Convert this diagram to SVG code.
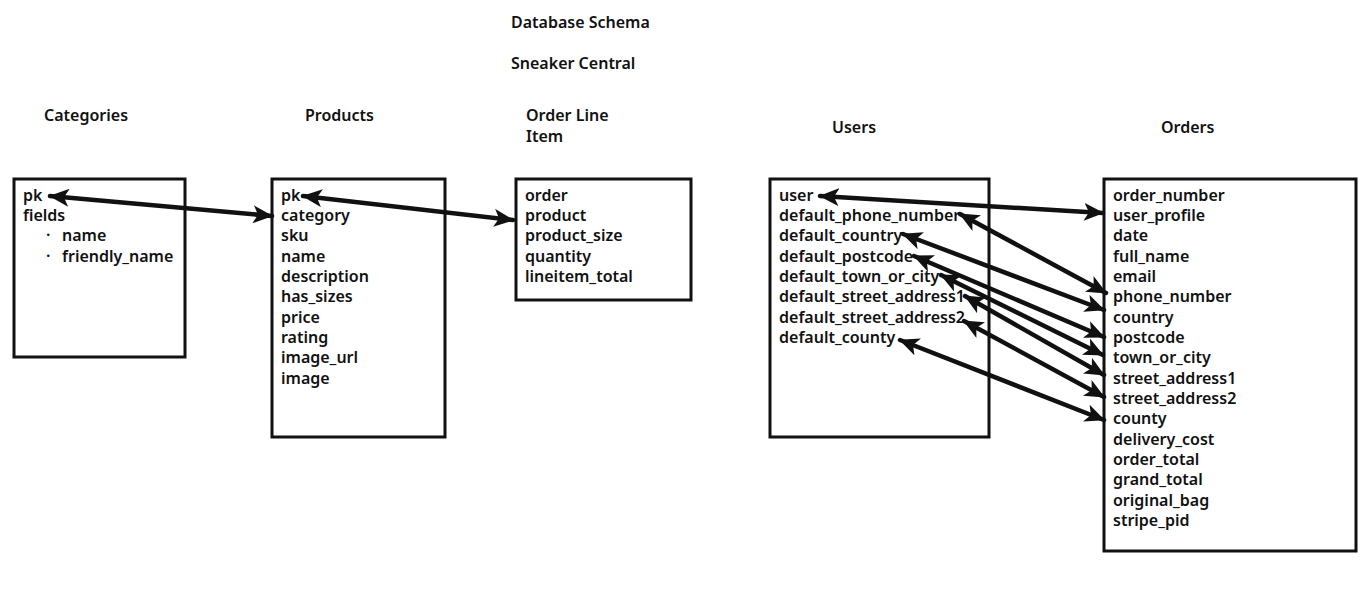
<svg xmlns="http://www.w3.org/2000/svg" width="1367" height="613" viewBox="0 0 1367 613">
  <style>
    text { font-family: "Noto Sans", "Liberation Sans", sans-serif; font-size: 16px; font-weight: 600; fill: #111; }
    .box { fill: #fff; stroke: #111; stroke-width: 3; }
    .link { stroke: #111; stroke-width: 4.5; fill: none; stroke-linecap: round; marker-start: url(#head); marker-end: url(#head); }
  </style>
  <defs>
    <marker id="head" markerUnits="userSpaceOnUse" markerWidth="20" markerHeight="18" refX="19" refY="9" orient="auto-start-reverse">
      <path d="M0,0 L20,9 L0,18 L5,9 z" fill="#111"/>
    </marker>
  </defs>
  <rect width="1367" height="613" fill="#fff"/>

  <g id="titles">
    <text x="511" y="28">Database Schema</text>
    <text x="511" y="69">Sneaker Central</text>
    <text x="44" y="121">Categories</text>
    <text x="305" y="121">Products</text>
    <text x="526" y="121">Order Line</text>
    <text x="526" y="142">Item</text>
    <text x="832" y="133">Users</text>
    <text x="1161" y="133">Orders</text>
  </g>

  <g id="categories">
    <rect class="box" x="14" y="179" width="171" height="178"/>
    <text x="23" y="201">pk</text>
    <text x="23" y="221">fields</text>
    <text x="46" y="241">·</text>
    <text x="62" y="241">name</text>
    <text x="46" y="262">·</text>
    <text x="62" y="262">friendly_name</text>
  </g>

  <g id="products">
    <rect class="box" x="272" y="179" width="173" height="258"/>
    <text x="281" y="201">pk</text>
    <text x="281" y="221">category</text>
    <text x="281" y="241">sku</text>
    <text x="281" y="262">name</text>
    <text x="281" y="282">description</text>
    <text x="281" y="302">has_sizes</text>
    <text x="281" y="323">price</text>
    <text x="281" y="343">rating</text>
    <text x="281" y="363">image_url</text>
    <text x="281" y="384">image</text>
  </g>

  <g id="order-line-item">
    <rect class="box" x="516" y="179" width="175" height="121"/>
    <text x="525" y="201">order</text>
    <text x="525" y="221">product</text>
    <text x="525" y="241">product_size</text>
    <text x="525" y="262">quantity</text>
    <text x="525" y="282">lineitem_total</text>
  </g>

  <g id="users">
    <rect class="box" x="770" y="179" width="219" height="258"/>
    <text x="779" y="201">user</text>
    <text x="779" y="221">default_phone_number</text>
    <text x="779" y="241">default_country</text>
    <text x="779" y="262">default_postcode</text>
    <text x="779" y="282">default_town_or_city</text>
    <text x="779" y="302">default_street_address1</text>
    <text x="779" y="323">default_street_address2</text>
    <text x="779" y="343">default_county</text>
  </g>

  <g id="orders">
    <rect class="box" x="1104" y="179" width="252" height="372"/>
    <text x="1113" y="201">order_number</text>
    <text x="1113" y="221">user_profile</text>
    <text x="1113" y="241">date</text>
    <text x="1113" y="262">full_name</text>
    <text x="1113" y="282">email</text>
    <text x="1113" y="302">phone_number</text>
    <text x="1113" y="323">country</text>
    <text x="1113" y="343">postcode</text>
    <text x="1113" y="363">town_or_city</text>
    <text x="1113" y="384">street_address1</text>
    <text x="1113" y="404">street_address2</text>
    <text x="1113" y="424">county</text>
    <text x="1113" y="445">delivery_cost</text>
    <text x="1113" y="465">order_total</text>
    <text x="1113" y="485">grand_total</text>
    <text x="1113" y="506">original_bag</text>
    <text x="1113" y="526">stripe_pid</text>
  </g>

  <g id="connectors">
    <line class="link" x1="50" y1="196" x2="272" y2="216"/>
    <line class="link" x1="303" y1="196" x2="513" y2="220"/>
    <line class="link" x1="820" y1="196" x2="1103" y2="213"/>
    <line class="link" x1="960" y1="214" x2="1106" y2="293"/>
    <line class="link" x1="903" y1="234" x2="1104" y2="310"/>
    <line class="link" x1="914" y1="256" x2="1104" y2="337"/>
    <line class="link" x1="941" y1="275" x2="1103" y2="355"/>
    <line class="link" x1="965" y1="296" x2="1104" y2="375"/>
    <line class="link" x1="964" y1="321" x2="1104" y2="397"/>
    <line class="link" x1="900" y1="340" x2="1104" y2="420"/>
  </g>
</svg>
